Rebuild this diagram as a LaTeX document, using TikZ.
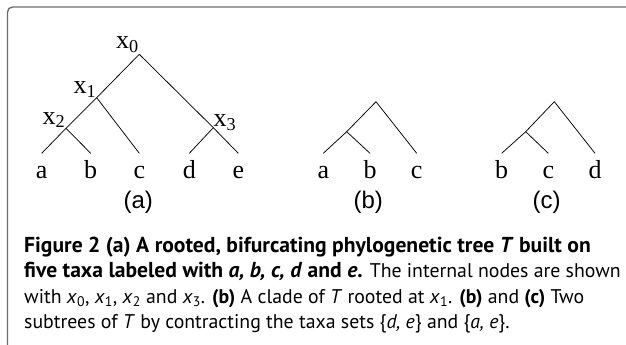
\documentclass[tikz,border=0pt]{standalone}
\usepackage{fontspec}
\usepackage{tikz}
\setmainfont{Liberation Serif}
\newfontfamily\panelfont{Liberation Sans}
\newfontfamily\capfont{PT Sans}
\definecolor{framegray}{RGB}{110,110,110}
\newcommand{\tx}[1]{x\textsubscript{#1}}
\newcommand{\ix}[1]{\textit{x}\textsubscript{#1}}
\newcommand{\capbf}[1]{{\fontsize{21.6}{25.5}\selectfont\bfseries #1}}

\begin{document}
\begin{tikzpicture}[x=1pt, y=-1pt,
  branch/.style={line width=0.75pt},
  taxon/.style={font=\fontsize{26}{26}\selectfont, anchor=base, inner sep=0pt},
  vtx/.style={font=\fontsize{26}{26}\selectfont, anchor=base west, inner sep=0pt},
  panel/.style={font=\panelfont\fontsize{24}{24}\selectfont, inner sep=0pt},
  caption/.style={font=\capfont\fontsize{19.8}{25.5}\selectfont, anchor=base west, align=left, inner sep=0pt},
]
  \useasboundingbox (0,0) rectangle (626,345);
  \draw[framegray, line width=1.4pt, rounded corners=5pt] (626,7) -- (7.5,7) -- (7.5,345);

  % (a) the whole tree T
  \coordinate (x0) at (139.3,54.3);
  \coordinate (x1) at (96.7,97.7);
  \coordinate (x2) at (66,128.3);
  \coordinate (x3) at (213.3,127.7);
  \coordinate (a) at (41.7,153.3);
  \coordinate (b) at (90.7,153.3);
  \coordinate (c) at (139.3,153.3);
  \coordinate (d) at (189.3,153.3);
  \coordinate (e) at (238.3,153.3);
  \draw[branch] (x0) -- (x1) -- (x2) -- (a);
  \draw[branch] (x2) -- (b);
  \draw[branch] (x1) -- (c);
  \draw[branch] (x0) -- (x3) -- (e);
  \draw[branch] (x3) -- (d);
  \node[vtx] (x0-lbl) at (116,48.3) {\tx{0}};
  \node[vtx] (x1-lbl) at (73.3,93.3) {\tx{1}};
  \node[vtx] (x2-lbl) at (42.3,124) {\tx{2}};
  \node[vtx] (x3-lbl) at (213.3,126.7) {\tx{3}};
  \node[taxon] (a-lbl) at (41.7,178) {a};
  \node[taxon] (b-lbl) at (90.7,178) {b};
  \node[taxon] (c-lbl) at (139.3,178) {c};
  \node[taxon] (d-lbl) at (189.3,178) {d};
  \node[taxon] (e-lbl) at (238.3,178) {e};
  \node[panel] (pa) at (138.3,202) {(a)};

  % (b) clade rooted at x1
  \coordinate (b-root) at (376,101.7);
  \coordinate (b-in) at (346.7,131.7);
  \coordinate (ba) at (323.3,153.3);
  \coordinate (bb) at (370,153.3);
  \coordinate (bc) at (416.7,153.3);
  \draw[branch] (b-root) -- (b-in) -- (ba);
  \draw[branch] (b-in) -- (bb);
  \draw[branch] (b-root) -- (bc);
  \node[taxon] (ba-lbl) at (323.3,178) {a};
  \node[taxon] (bb-lbl) at (370,178) {b};
  \node[taxon] (bc-lbl) at (416.7,178) {c};
  \node[panel] (pb) at (368.3,202) {(b)};

  % (c) contracted on {a,e}
  \coordinate (c-root) at (554.3,101.7);
  \coordinate (c-in) at (525.7,131.7);
  \coordinate (cb) at (501.7,153.3);
  \coordinate (cc) at (548.3,153.3);
  \coordinate (cd) at (595,153.3);
  \draw[branch] (c-root) -- (c-in) -- (cb);
  \draw[branch] (c-in) -- (cc);
  \draw[branch] (c-root) -- (cd);
  \node[taxon] (cb-lbl) at (501.7,178) {b};
  \node[taxon] (cc-lbl) at (548.3,178) {c};
  \node[taxon] (cd-lbl) at (595,178) {d};
  \node[panel] (pc) at (546.7,202) {(c)};

  \node[caption] (cap) at (24,328.5) {%
    \capbf{Figure 2 (a) A rooted, bifurcating phylogenetic tree \textit{T} built on}\\
    \capbf{five taxa labeled with \textit{a, b, c, d} and \textit{e}.} The internal nodes are shown\\
    with \ix{0}, \ix{1}, \ix{2} and \ix{3}. \textbf{(b)} A clade of \textit{T} rooted at \ix{1}. \textbf{(b)} and \textbf{(c)} Two\\
    subtrees of \textit{T} by contracting the taxa sets \{\textit{d, e}\} and \{\textit{a, e}\}.};
\end{tikzpicture}
\end{document}
